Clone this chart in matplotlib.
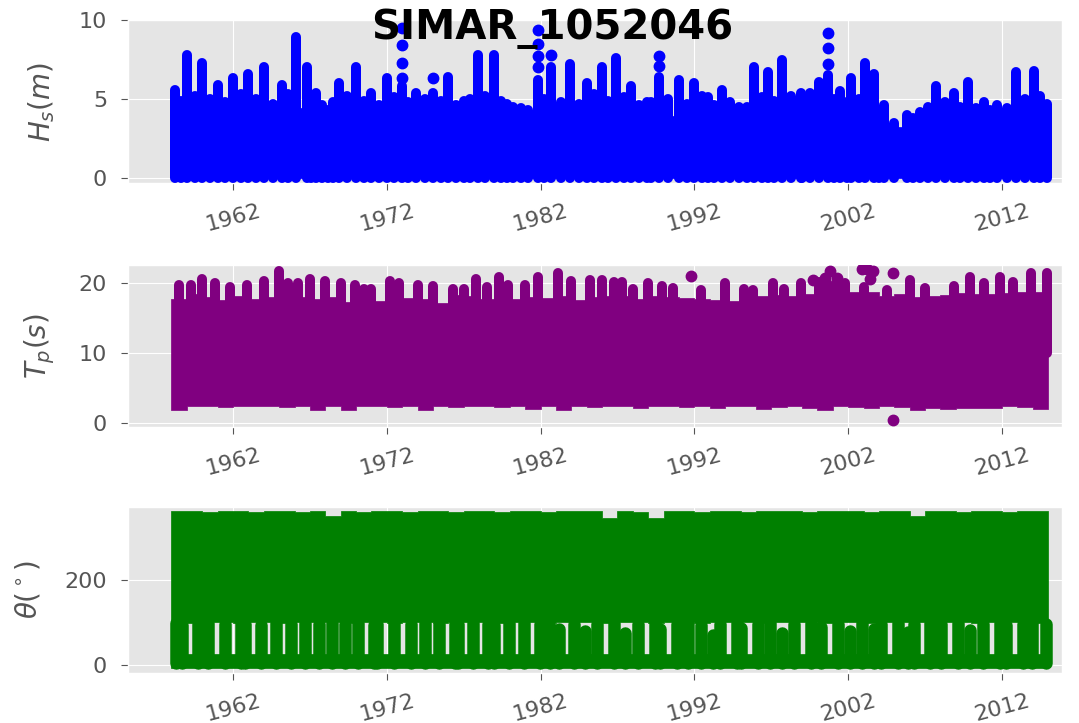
import numpy as np
import matplotlib
matplotlib.use("Agg")
import matplotlib.pyplot as plt

# SIMAR hindcast node: Hs, Tp and mean direction, 1958-2015
station = "SIMAR_1052046"

year_ticks = [1962, 1972, 1982, 1992, 2002, 2012]
base_years = np.arange(1958, 2015)  # one block per year, 1958 .. 2014
year_edges = np.append(base_years, 2015)

# --- significant wave height (m) ---
# top of the dense cloud for each year
hs_top = [3.8, 4.3, 4.2, 4.0, 4.1, 4.3, 4.2, 4.0, 4.4, 4.2,
          3.6, 4.0, 4.3, 3.9, 4.0, 4.2, 3.8, 4.1, 4.2, 3.8,
          4.3, 4.2, 3.8, 3.9, 4.3, 4.1, 3.9, 4.0, 4.2, 4.0,
          3.8, 4.1, 3.9, 3.8, 4.1, 3.9, 3.6, 4.0, 4.2, 4.1,
          3.9, 4.0, 4.3, 4.0, 4.1, 4.2, 3.4, 3.2, 3.3, 3.6,
          3.7, 3.8, 3.8, 3.7, 3.9, 4.1, 4.0]
hs_low = 0.0
# storm peaks
hs_storm_year = [1958.2, 1959.0, 1960.0, 1961.0, 1962.0, 1963.0, 1964.0, 1965.2, 1966.1, 1966.8,
                 1967.4, 1968.2, 1968.9, 1970.0, 1971.0, 1972.0, 1973.0, 1973.9, 1975.0, 1976.0,
                 1977.0, 1977.9, 1979.0, 1979.8, 1980.7, 1981.2, 1981.8, 1982.7, 1983.9, 1985.0,
                 1986.0, 1986.9, 1987.9, 1988.9, 1989.7, 1991.0, 1992.0, 1992.9, 1993.8, 1994.9,
                 1995.9, 1996.8, 1997.7, 1998.9, 1999.5, 2000.1, 2000.7, 2001.5, 2002.2, 2003.1,
                 2003.7, 2004.3, 2005.0, 2005.8, 2006.7, 2007.7, 2008.9, 2009.8, 2010.8, 2011.7,
                 2012.9, 2014.1, 2014.9]
hs_storm_peak = [5.6, 7.8, 7.3, 5.9, 6.3, 6.6, 7.0, 5.9, 8.9, 7.0,
                 5.4, 4.3, 6.0, 7.0, 5.4, 6.3, 5.8, 5.4, 5.4, 6.4,
                 4.9, 7.8, 7.8, 4.7, 4.4, 4.3, 6.2, 7.0, 7.2, 6.0,
                 7.0, 7.6, 5.8, 4.8, 6.4, 6.2, 6.0, 5.1, 5.6, 4.5,
                 7.0, 6.7, 7.5, 5.4, 5.4, 6.1, 6.5, 5.5, 6.3, 7.3,
                 6.6, 4.6, 3.5, 4.0, 4.2, 5.8, 5.4, 6.1, 4.8, 4.6,
                 6.7, 6.8, 4.7]
# smaller events between the main storms
hs_minor_year = [1958.6, 1959.5, 1960.5, 1961.5, 1962.5, 1963.5, 1964.6, 1965.6, 1967.1, 1967.8,
                 1968.5, 1969.4, 1970.5, 1971.5, 1972.5, 1973.4, 1974.5, 1975.5, 1976.5, 1977.4,
                 1978.4, 1979.4, 1980.2, 1982.2, 1983.3, 1984.5, 1985.5, 1986.4, 1987.4, 1988.4,
                 1989.2, 1990.3, 1991.5, 1992.5, 1993.3, 1994.3, 1995.4, 1996.4, 1997.2, 1998.3,
                 1999.0, 2001.1, 2001.9, 2002.7, 2004.0, 2006.2, 2007.2, 2008.3, 2009.3, 2010.3,
                 2011.2, 2012.3, 2013.5, 2014.5]
hs_minor_peak = [4.9, 5.2, 5.0, 4.8, 5.3, 5.0, 4.7, 5.3, 5.0, 4.6,
                 4.8, 5.2, 4.9, 4.6, 5.1, 4.8, 5.0, 4.9, 4.6, 5.0,
                 5.2, 4.9, 4.5, 5.0, 4.8, 4.7, 5.3, 4.9, 5.1, 4.6,
                 4.8, 5.0, 4.7, 5.2, 4.6, 4.8, 4.5, 5.1, 4.9, 5.2,
                 4.8, 5.0, 4.8, 5.0, 4.2, 3.8, 4.5, 4.8, 4.5, 4.4,
                 4.3, 4.4, 5.0, 5.2]
# single records standing above the storm columns
hs_dot_year = [1973.0, 1973.0, 1973.0, 1973.0, 1975.0, 1981.8, 1981.8, 1981.8, 1981.8,
               1982.7, 1989.7, 1989.7, 2000.7, 2000.7, 2000.7]
hs_dot_value = [6.3, 7.3, 8.4, 9.5, 6.3, 7.0, 7.7, 8.5, 9.4,
                7.8, 7.1, 7.7, 7.2, 8.2, 9.2]

# --- peak period (s) ---
tp_top = [17.8, 18.5, 18.0, 17.6, 18.2, 17.8, 18.0, 18.3, 18.0, 17.8,
          18.0, 17.3, 18.4, 17.5, 18.2, 17.9, 17.8, 17.2, 18.3, 18.2,
          17.8, 18.3, 17.8, 18.0, 17.9, 18.2, 17.6, 18.0, 18.2, 18.1,
          17.8, 18.2, 18.0, 17.9, 17.8, 17.6, 17.4, 17.9, 18.1, 18.3,
          18.2, 18.5, 18.6, 18.6, 18.8, 18.7, 18.2, 18.4, 18.0, 18.1,
          18.3, 18.6, 18.4, 18.5, 18.6, 18.7, 18.8]
tp_bottom = [1.9, 2.4, 2.5, 2.3, 2.5, 2.4, 2.5, 2.3, 2.4, 1.8,
             2.4, 1.8, 2.4, 2.5, 2.3, 2.5, 1.8, 2.4, 2.3, 2.5,
             2.4, 2.3, 2.4, 2.0, 2.5, 1.9, 2.4, 2.3, 2.4, 2.5,
             2.2, 2.4, 2.5, 2.3, 2.4, 2.2, 2.4, 2.5, 2.0, 2.3,
             2.4, 2.2, 1.9, 2.4, 2.3, 2.1, 2.4, 2.3, 1.9, 2.2,
             2.0, 2.1, 2.2, 2.1, 2.4, 2.3, 2.0]
tp_peak_year = [1958.5, 1959.3, 1960.0, 1960.8, 1961.8, 1962.9, 1964.0, 1965.0, 1965.6, 1966.2,
                1967.0, 1968.0, 1969.0, 1969.9, 1970.5, 1971.0, 1972.2, 1972.8, 1974.0, 1975.0,
                1976.3, 1977.0, 1977.8, 1978.5, 1979.3, 1979.9, 1981.0, 1981.8, 1983.1, 1984.0,
                1985.2, 1986.0, 1986.8, 1987.3, 1988.0, 1989.0, 1989.9, 1990.6, 1992.4, 1994.0,
                1995.2, 1995.8, 1997.1, 1997.8, 1998.9, 2000.1, 2000.6, 2001.2, 2001.8, 2003.0,
                2004.5, 2006.0, 2007.0, 2008.9, 2009.9, 2010.8, 2011.9, 2012.7, 2013.9, 2014.9]
tp_peak = [19.7, 19.7, 20.6, 20.0, 19.5, 19.7, 20.3, 21.7, 20.0, 20.0,
           20.6, 20.3, 20.0, 19.8, 19.2, 19.2, 20.3, 20.0, 19.7, 19.6,
           19.2, 19.2, 20.6, 19.4, 20.9, 19.7, 19.7, 20.9, 21.4, 20.3,
           20.4, 20.5, 20.2, 20.2, 19.2, 20.0, 19.6, 19.3, 19.0, 20.0,
           19.2, 19.0, 20.0, 19.2, 20.0, 20.2, 20.0, 20.0, 20.0, 19.5,
           19.0, 20.4, 19.3, 19.6, 20.9, 20.0, 20.9, 20.2, 21.4, 21.4]
tp_dot_year = [1991.8, 1999.7, 2000.5, 2000.8, 2001.3, 2002.9, 2003.2, 2003.4, 2003.6, 2004.9, 2004.9]
tp_dot_value = [21.0, 20.4, 20.8, 21.8, 20.8, 22.0, 22.0, 20.6, 21.8, 21.5, 0.4]

# --- mean wave direction (deg) ---
dir_top = [362, 362, 361, 362, 362, 361, 362, 362, 361, 362,
           350, 362, 361, 362, 362, 361, 362, 362, 360, 362,
           362, 361, 362, 362, 361, 362, 362, 362, 345, 362,
           361, 345, 362, 362, 361, 362, 362, 361, 362, 362,
           362, 361, 362, 362, 362, 361, 362, 362, 350, 362,
           362, 361, 362, 362, 361, 362, 362]
dir_bottom = [100, 98, 102, 100, 99, 101, 100, 98, 100, 102,
              100, 99, 101, 100, 98, 100, 101, 99, 100, 102,
              100, 98, 101, 100, 99, 100, 102, 100, 98, 101,
              100, 99, 100, 101, 98, 100, 102, 100, 99, 100,
              101, 100, 98, 100, 102, 99, 100, 101, 100, 98,
              100, 101, 99, 100, 102, 100, 99]
dir_band_top = 26
# northerly spells below the main cloud
dir_low_year = [1958.3, 1958.7, 1959.75, 1960.35, 1961.45, 1962.55, 1962.75, 1963.8, 1964.8, 1965.75,
                1966.7, 1967.6, 1968.45, 1969.25, 1970.1, 1971.15, 1971.35, 1972.45, 1973.55, 1974.5,
                1975.4, 1976.45, 1976.65, 1977.6, 1978.55, 1978.95, 1979.95, 1980.95, 1981.95, 1982.6,
                1983.2, 1984.15, 1984.9, 1985.65, 1986.75, 1987.5, 1988.35, 1989.45, 1989.75, 1990.85,
                1991.6, 1992.4, 1993.2, 1993.65, 1994.75, 1995.05, 1996.15, 1996.9, 1997.7, 1998.45,
                1999.55, 2000.25, 2001.35, 2002.1, 2002.9, 2003.7, 2004.15, 2005.25, 2005.9, 2006.25,
                2007.35, 2008.05, 2009.15, 2009.9, 2010.75, 2011.85, 2012.25, 2013.35, 2013.95, 2014.85]
dir_low_top = [98, 95, 97, 99, 96, 98, 97, 95, 99, 97,
               98, 96, 99, 97, 98, 95, 97, 99, 96, 98,
               97, 99, 96, 98, 97, 95, 98, 99, 97, 90,
               85, 97, 80, 96, 98, 75, 97, 99, 85, 96,
               98, 95, 70, 97, 99, 88, 96, 98, 75, 97,
               99, 90, 96, 80, 98, 85, 97, 99, 78, 96,
               98, 97, 99, 82, 96, 98, 95, 97, 99, 96]

plt.style.use("ggplot")
plt.rcParams["font.size"] = 16

fig = plt.figure(figsize=(10.79, 7.23), dpi=100)
ax_hs = fig.add_axes([0.1186, 0.7469, 0.8656, 0.2254])
ax_tp = fig.add_axes([0.1186, 0.4094, 0.8656, 0.2241])
ax_dir = fig.add_axes([0.1186, 0.0692, 0.8656, 0.2296])


def draw_cloud(ax, color, top, bottom):
    # dense body of hourly records, stepped year by year
    ax.fill_between(year_edges, np.append(bottom, bottom[-1]), np.append(top, top[-1]),
                    step="post", facecolor=color, edgecolor=color, linewidth=0.5, zorder=4)


def draw_columns(ax, color, x, lo, hi, width=7.2):
    cols = ax.vlines(x, lo, hi, colors=color, linewidth=width, zorder=3)
    cols.set_capstyle("round")


def draw_dots(ax, color, x, y):
    ax.plot(x, y, "o", color=color, markersize=7.5, linestyle="none", zorder=3)


# Hs
draw_cloud(ax_hs, "blue", hs_top, [hs_low] * len(hs_top))
draw_columns(ax_hs, "blue", hs_minor_year, hs_low, hs_minor_peak)
draw_columns(ax_hs, "blue", hs_storm_year, hs_low, hs_storm_peak)
draw_dots(ax_hs, "blue", hs_dot_year, hs_dot_value)

# Tp
draw_cloud(ax_tp, "purple", tp_top, tp_bottom)
draw_columns(ax_tp, "purple", tp_peak_year, 10, tp_peak)
draw_dots(ax_tp, "purple", tp_dot_year, tp_dot_value)

# direction
draw_cloud(ax_dir, "green", dir_top, dir_bottom)
draw_cloud(ax_dir, "green", [dir_band_top] * len(dir_top), [-6] * len(dir_top))
draw_columns(ax_dir, "green", dir_low_year, 4, dir_low_top, width=9)

ax_hs.set_ylim(-0.32, 10)
ax_hs.set_yticks([0, 5, 10])
ax_tp.set_ylim(-0.57, 22.6)
ax_tp.set_yticks([0, 10, 20])
ax_dir.set_ylim(-18.8, 371.8)
ax_dir.set_yticks([0, 200])

ax_hs.set_ylabel(r"$H_s (m)$", fontsize=20, labelpad=16)
ax_tp.set_ylabel(r"$T_p (s)$", fontsize=20, labelpad=16)
ax_dir.set_ylabel(r"$\theta (^\circ)$", fontsize=20, labelpad=16)

for ax in (ax_hs, ax_tp, ax_dir):
    ax.set_xlim(1955.17, 2015.9)
    ax.set_xticks(year_ticks)
    ax.set_xticklabels([str(y) for y in year_ticks], rotation=15)
    ax.tick_params(axis="x", pad=8, length=5)
    ax.tick_params(axis="y", pad=10, length=5)

fig.text(0.512, 0.960, station, fontsize=29, fontweight="bold",
         ha="center", va="center")

fig.savefig("out.png", dpi=100)
